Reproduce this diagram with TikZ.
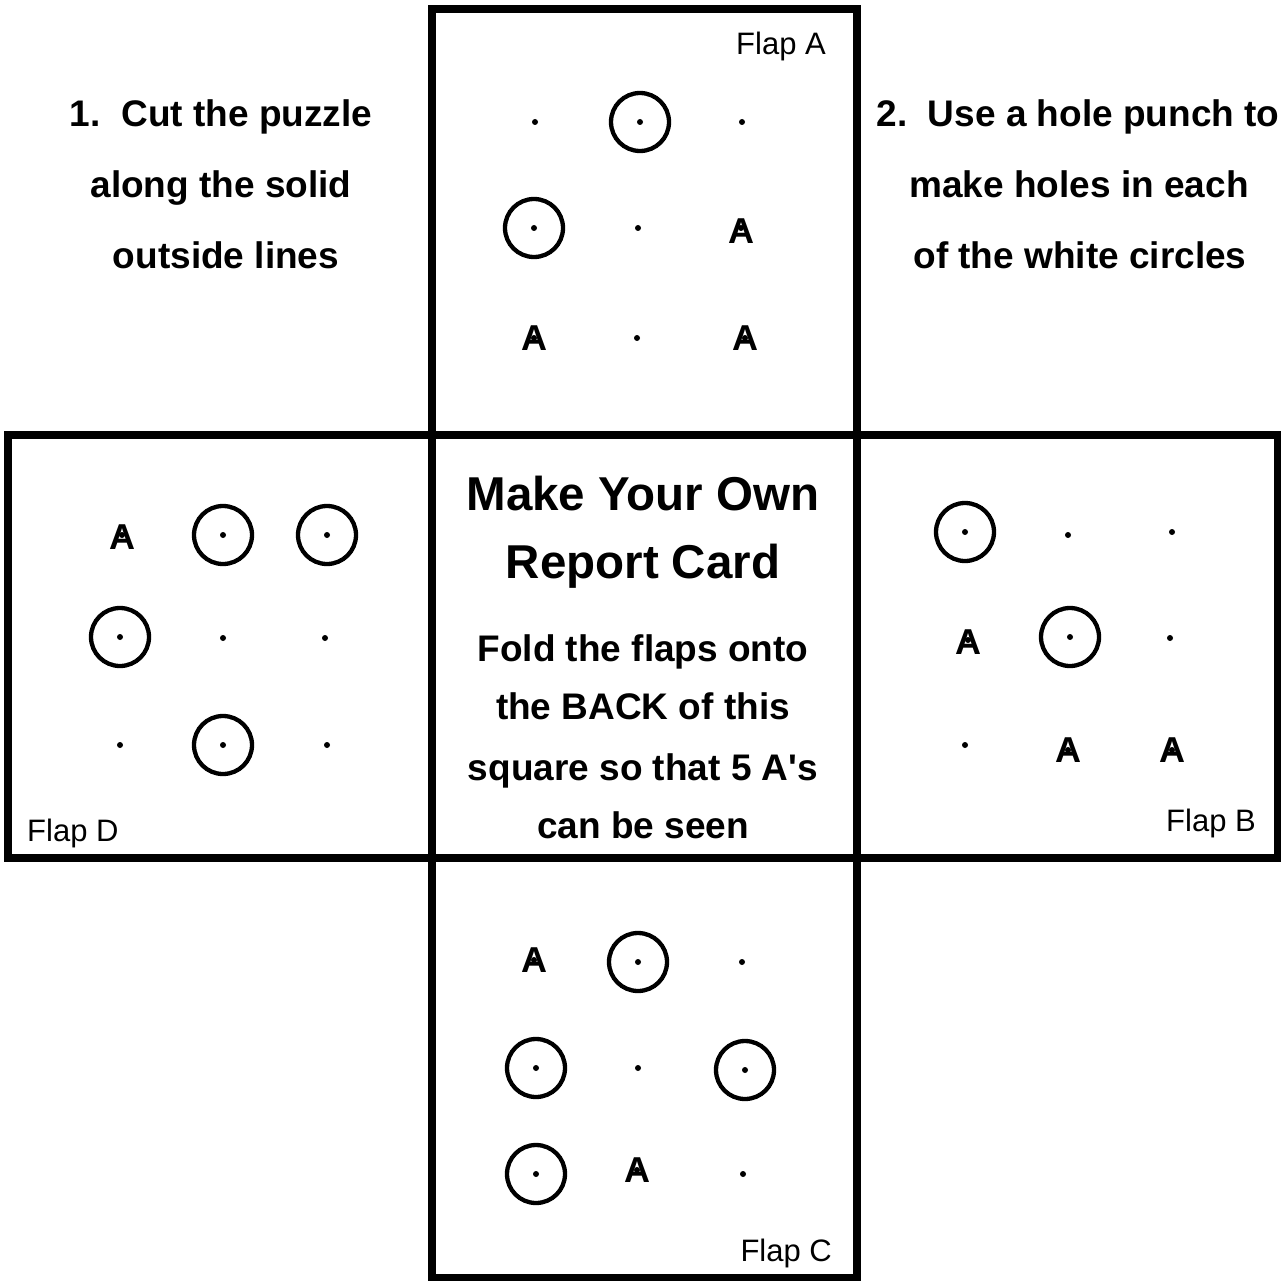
\documentclass[tikz,border=0pt]{standalone}
\usepackage{fontspec}
\setmainfont{Liberation Sans}
\newfontfamily\nomapfont{Liberation Sans}[Ligatures=TeXOff]
\begin{document}
\begin{tikzpicture}[x=1pt,y=-1pt,
  panel/.style={draw=black,line width=8pt,line join=miter},
  hole/.style={draw=black,line width=4.3pt},
  dotmark/.style={fill=black},
  amark/.style={inner sep=0pt,anchor=center,font=\fontsize{36}{36}\selectfont\bfseries},
  flaplabel/.style={inner sep=0pt,font=\fontsize{31}{31}\selectfont},
  instr/.style={inner sep=0pt,anchor=base,font=\fontsize{37}{37}\selectfont\bfseries},
  title/.style={inner sep=0pt,anchor=base,font=\fontsize{47.5}{47.5}\selectfont\bfseries},
  body/.style={inner sep=0pt,anchor=base,font=\fontsize{37}{37}\selectfont\bfseries}]
\useasboundingbox (0,0) rectangle (1281,1281);
\fill[white] (0,0) rectangle (1281,1281);

% panels
\draw[panel] (432,9) rectangle (857,435);
\draw[panel] (8,435) rectangle (432,858);
\draw[panel] (432,435) rectangle (857,858);
\draw[panel] (857,435) rectangle (1278,858);
\draw[panel] (432,858) rectangle (857,1278);

% dots
\foreach \p in {
  (535,122),(640,122),(742,122),(534,228),(638,228),(741,228),(534,338),(637,338),(745,338),
  (122,535),(223,535),(327,535),(120,637),(223,638),(325,638),(120,745),(223,745),(327,745),
  (965,532),(1068,535),(1172,532),(968,640),(1070,637),(1170,638),(965,745),(1068,750),(1172,750),
  (534,960),(638,962),(742,962),(536,1068),(638,1068),(745,1070),(536,1174),(637,1170),(743,1174)}
  \fill[dotmark] \p circle (3);

% holes
\foreach \p in {(640,122),(534,228),
  (223,535),(327,535),(120,637),(223,745),
  (965,532),(1070,637),
  (638,962),(536,1068),(745,1070),(536,1174)}
  \draw[hole] \p circle (29);

% A marks
\node[amark] (aA1) at (741,231) {A};
\node[amark] (aA2) at (534,338) {A};
\node[amark] (aA3) at (745,338) {A};
\node[amark] (aD1) at (122,537) {A};
\node[amark] (aB1) at (968,642) {A};
\node[amark] (aB2) at (1068,750) {A};
\node[amark] (aB3) at (1172,750) {A};
\node[amark] (aC1) at (534,960) {A};
\node[amark] (aC2) at (637,1170) {A};

% flap labels
\node[flaplabel,anchor=base east] (labA) at (826,55) {Flap A};
\node[flaplabel,anchor=base east] (labB) at (1256,831) {Flap B};
\node[flaplabel,anchor=base east] (labC) at (832,1261) {Flap C};
\node[flaplabel,anchor=base west] (labD) at (27,841) {Flap D};

% instructions
\node[instr] (l1) at (221,127) {1.\ \ Cut the puzzle};
\node[instr] (l2) at (221,198) {along the solid};
\node[instr] (l3) at (226,269) {outside lines};
\node[instr] (r1) at (1078,127) {2.\ \ Use a hole punch to};
\node[instr] (r2) at (1079,198) {make holes in each};
\node[instr] (r3) at (1080,269) {of the white circles};

% centre
\node[title] (t1) at (643,510) {Make Your Own};
\node[title] (t2) at (643,578) {Report Card};
\node[body] (b1) at (643,661) {Fold the flaps onto};
\node[body] (b2) at (643,719) {the BACK of this};
\node[body] (b3) at (643,780) {square so that 5 A{\nomapfont\bfseries '}s};
\node[body] (b4) at (643,838) {can be seen};
\end{tikzpicture}
\end{document}
